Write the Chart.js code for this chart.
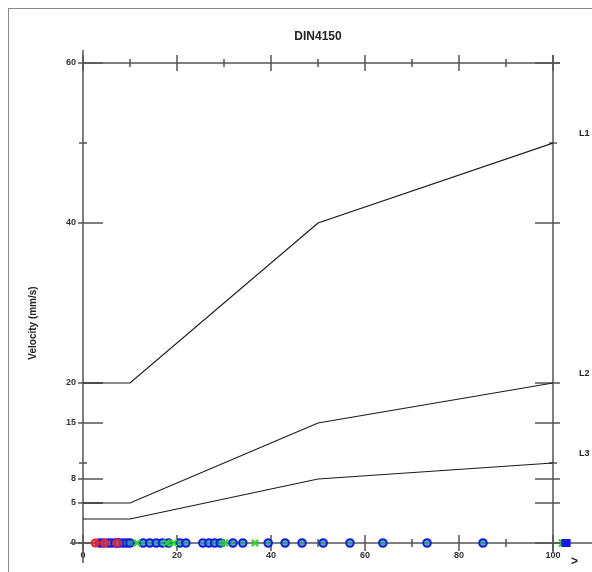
<!DOCTYPE html>
<html>
<head>
<meta charset="utf-8">
<script src="https://cdn.jsdelivr.net/npm/chart.js@4"></script>
<style>
  body { margin: 0; background: #fff; }
  #wrap { position: relative; width: 592px; height: 572px; overflow: hidden; }
  #frame { position: absolute; left: 8px; top: 8px; width: 640px; height: 640px; border: 1px solid #8a8a8a; }
  canvas { position: absolute; left: 0; top: 0; }
</style>
</head>
<body>
<div id="wrap">
  <div id="frame"></div>
  <canvas id="dinChart" width="592" height="572"></canvas>
</div>
<script>
const chartTitle = 'DIN4150';
const yTitle = 'Velocity (mm/s)';
const xTitle = '>';

// limit lines
const lineX = [0, 10, 50, 100];
const l1 = [20, 20, 40, 50];
const l2 = [5, 5, 15, 20];
const l3 = [3, 3, 8, 10];
const lineNames = ['L1', 'L2', 'L3'];

// measured events along the x axis (velocity ~0)
const blueX = [3.5, 4.3, 5.2, 6.0, 6.8, 7.3, 7.6, 8.5, 9.3, 10.0, 12.8, 14.2, 15.6, 16.9, 18.2,
  20.6, 21.9, 25.5, 26.8, 28.0, 29.2, 31.9, 34.0, 39.4, 43.0, 46.6, 51.1, 56.8, 63.8, 73.2, 85.1, 102.6, 102.9];
const greenX = [11.5, 17.8, 19.3, 30.2, 36.6, 102.0];
const redX = [2.6, 4.6, 7.2];

const yTicks = [0, 5, 8, 15, 20, 40, 60];
const yMinor = [10, 50];
const xTicks = [0, 20, 40, 60, 80, 100];
const xMinor = [10, 30, 50, 70, 90];

const toPts = (xs, ys) => xs.map((x, i) => ({ x: x, y: ys[i] }));
const onAxis = xs => xs.map(x => ({ x: x, y: 0 }));

const lineStyle = {
    type: 'line',
    borderColor: '#1a1a1a',
    borderWidth: 1.2,
    pointRadius: 0,
    fill: false,
    tension: 0,
};

const axesPlugin = {
    id: 'axesPlugin',
    beforeDatasetsDraw(chart) {
        const { ctx, chartArea: a, scales: { x, y } } = chart;
        ctx.save();
        ctx.strokeStyle = '#555';
        ctx.lineWidth = 1.5;
        const seg = (x1, y1, x2, y2) => {
            ctx.beginPath(); ctx.moveTo(x1, y1); ctx.lineTo(x2, y2); ctx.stroke();
        };
        // axis frame
        seg(a.left, a.top - 13, a.left, a.bottom + 20);
        seg(a.right, a.top - 8, a.right, a.bottom + 9);
        seg(a.left - 13, a.bottom, a.right + 45, a.bottom);
        seg(a.left, a.top, a.right + 7, a.top);

        // y ticks
        yTicks.forEach(v => {
            const py = y.getPixelForValue(v);
            seg(a.left - 5, py, a.left + 20, py);
            seg(a.right - 18, py, a.right + 7, py);
        });
        yMinor.forEach(v => {
            const py = y.getPixelForValue(v);
            seg(a.left - 4, py, a.left + 4, py);
            seg(a.right - 4, py, a.right + 4, py);
        });
        // x ticks
        xTicks.forEach(v => {
            const px = x.getPixelForValue(v);
            seg(px, a.bottom - 8, px, a.bottom + 8);
            seg(px, a.top - 8, px, a.top + 8);
        });
        xMinor.forEach(v => {
            const px = x.getPixelForValue(v);
            seg(px, a.bottom - 4, px, a.bottom + 4);
            seg(px, a.top - 4, px, a.top + 4);
        });
        ctx.restore();
    },
    afterDatasetsDraw(chart) {
        // chart.js skips points outside the chart area; draw the ones past x=100 here
        const { ctx, chartArea: a } = chart;
        ctx.save();
        chart.data.datasets.forEach((ds, i) => {
            if (ds.type === 'line') return;
            chart.getDatasetMeta(i).data.forEach(pt => {
                if (pt.x <= a.right + 3) return;
                ctx.lineWidth = 2;
                ctx.strokeStyle = ds.borderColor;
                if (ds.pointStyle === 'crossRot') {
                    const r = 3.5;
                    ctx.beginPath();
                    ctx.moveTo(pt.x - r, pt.y - r); ctx.lineTo(pt.x + r, pt.y + r);
                    ctx.moveTo(pt.x - r, pt.y + r); ctx.lineTo(pt.x + r, pt.y - r);
                    ctx.stroke();
                } else {
                    ctx.fillStyle = ds.borderColor;
                    ctx.fillRect(pt.x - 4, pt.y - 4, 8, 8);
                }
            });
        });
        ctx.restore();
    },
    afterDraw(chart) {
        const { ctx, chartArea: a, scales: { x, y } } = chart;
        ctx.save();
        ctx.fillStyle = '#222';
        ctx.font = 'bold 12px "Liberation Sans", Arial, sans-serif';
        ctx.textAlign = 'center';
        ctx.textBaseline = 'middle';
        ctx.fillText(chartTitle, (a.left + a.right) / 2, 37);

        ctx.font = 'bold 9px "Liberation Sans", Arial, sans-serif';
        ctx.textAlign = 'left';
        [l1, l2, l3].forEach((s, i) => {
            ctx.fillText(lineNames[i], a.right + 26, y.getPixelForValue(s[s.length - 1]) - 9);
        });

        ctx.font = 'bold 12px "Liberation Sans", Arial, sans-serif';
        ctx.fillText(xTitle, a.right + 18, a.bottom + 19);

        ctx.font = 'bold 10px "Liberation Sans", Arial, sans-serif';
        ctx.translate(33, 323);
        ctx.rotate(-Math.PI / 2);
        ctx.textAlign = 'center';
        ctx.fillText(yTitle, 0, 0);
        ctx.restore();
    }
};

const ctx = document.getElementById('dinChart').getContext('2d');
const chart = new Chart(ctx, {
    type: 'scatter',
    data: {
        datasets: [
            { ...lineStyle, label: 'L1', data: toPts(lineX, l1) },
            { ...lineStyle, label: 'L2', data: toPts(lineX, l2) },
            { ...lineStyle, label: 'L3', data: toPts(lineX, l3) },
            {
                label: 'red', data: onAxis(redX), clip: false,
                pointStyle: 'circle', pointRadius: 3.5,
                borderColor: '#ee2222', backgroundColor: 'rgba(238,60,60,0.6)', borderWidth: 2,
            },
            {
                label: 'green', data: onAxis(greenX), clip: false,
                pointStyle: 'crossRot', pointRadius: 4.5,
                borderColor: '#22dd22', borderWidth: 2,
            },
            {
                label: 'blue', data: onAxis(blueX), clip: false,
                pointStyle: 'circle', pointRadius: 3.8,
                borderColor: '#1818ee', backgroundColor: 'rgba(40,160,140,0.8)', borderWidth: 2,
            },
        ],
    },
    options: {
        responsive: false,
        animation: false,
        layout: { padding: { left: 0, right: 39, top: 63, bottom: 0 } },
        plugins: {
            legend: { display: false },
            title: { display: false },
            tooltip: { enabled: false },
        },
        scales: {
            x: {
                type: 'linear', min: 0, max: 100,
                grid: { display: false, drawTicks: false },
                border: { display: false },
                ticks: {
                    stepSize: 20, padding: 7, color: '#333',
                    font: { family: '"Liberation Sans", Arial, sans-serif', size: 9, weight: 'bold' },
                },
                afterFit(scale) { scale.height = 29; },
            },
            y: {
                type: 'linear', min: 0, max: 60,
                grid: { display: false, drawTicks: false },
                border: { display: false },
                ticks: {
                    padding: 7, color: '#333',
                    font: { family: '"Liberation Sans", Arial, sans-serif', size: 9, weight: 'bold' },
                },
                afterBuildTicks(scale) { scale.ticks = yTicks.map(v => ({ value: v })); },
                afterFit(scale) { scale.width = 83; },
            },
        },
    },
    plugins: [axesPlugin],
});
</script>
</body>
</html>
